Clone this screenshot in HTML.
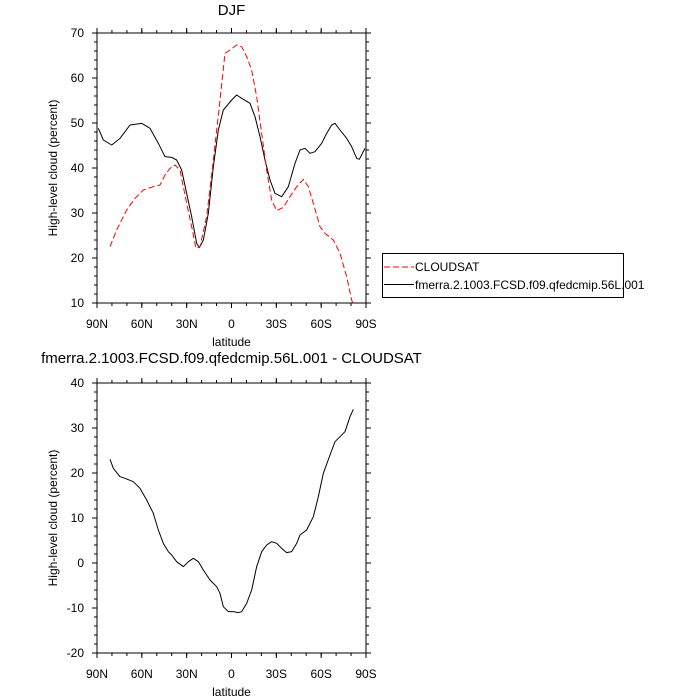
<!DOCTYPE html>
<html><head><style>html,body{margin:0;padding:0;background:#fff}svg{display:block}</style></head><body>
<svg width="700" height="700" viewBox="0 0 700 700" xmlns="http://www.w3.org/2000/svg" font-family="Liberation Sans, sans-serif">
<defs>
<g id="ax">
<rect x="97" y="0" width="269" height="270" fill="none" stroke="#000" stroke-width="1"/>
<g stroke="#000" fill="none">
<line x1="96.5" y1="271.5" x2="367" y2="271.5" stroke-width="3" stroke-dasharray="1 13.944"/>
<line x1="96.5" y1="272.5" x2="367" y2="272.5" stroke-width="5" stroke-dasharray="1 43.833"/>
<line x1="96.5" y1="-1.5" x2="367" y2="-1.5" stroke-width="3" stroke-dasharray="1 13.944"/>
<line x1="96.5" y1="-2.5" x2="367" y2="-2.5" stroke-width="5" stroke-dasharray="1 43.833"/>
<line x1="95.5" y1="-0.5" x2="95.5" y2="271" stroke-width="3" stroke-dasharray="1 8"/>
<line x1="94.5" y1="-0.5" x2="94.5" y2="271" stroke-width="5" stroke-dasharray="1 44"/>
<line x1="367.5" y1="-0.5" x2="367.5" y2="271" stroke-width="3" stroke-dasharray="1 8"/>
<line x1="368.5" y1="-0.5" x2="368.5" y2="271" stroke-width="5" stroke-dasharray="1 44"/>
</g>
<g font-size="12" text-anchor="middle">
<text x="97" y="295">90N</text><text x="141.8" y="295">60N</text><text x="186.7" y="295">30N</text><text x="231.5" y="295">0</text><text x="276.3" y="295">30S</text><text x="321.2" y="295">60S</text><text x="366" y="295">90S</text>
<text x="231.5" y="313">latitude</text>
</g>
<text transform="translate(57 135) rotate(-90)" font-size="12" text-anchor="middle">High-level cloud (percent)</text>
</g>
</defs>

<text x="231.5" y="15" font-size="15" text-anchor="middle">DJF</text>
<g transform="translate(0 33)"><use href="#ax"/>
<g font-size="12" text-anchor="end">
<text x="84" y="4">70</text><text x="84" y="49">60</text><text x="84" y="94">50</text><text x="84" y="139">40</text><text x="84" y="184">30</text><text x="84" y="229">20</text><text x="84" y="274">10</text>
</g></g>

<g transform="translate(40 20) scale(0.333333)" fill="none" stroke-linejoin="round">
<polyline stroke="#000" stroke-width="3" points="175,325 190,360 215,375 240,355 270,315 305,310 330,325 355,370 375,410 395,412 410,420 425,450 440,520 455,590 470,670 478,683 490,660 505,580 520,440 535,330 550,270 575,240 590,225 605,235 630,250 645,290 660,350 675,420 690,480 705,520 725,530 745,500 765,430 780,390 795,385 810,400 825,395 845,370 860,340 875,315 885,310 900,330 920,355 935,380 950,415 958,418 975,385"/>
<polyline stroke="#f00" stroke-width="3" stroke-dasharray="18 9" points="210,680 230,630 260,570 285,535 310,510 340,500 360,495 375,465 390,445 405,435 420,450 440,550 455,620 468,685 480,680 500,590 520,420 540,240 555,100 570,90 590,75 605,80 620,110 635,150 650,230 665,340 680,450 695,540 710,572 730,562 750,530 770,500 790,478 805,500 820,550 840,620 855,640 880,660 900,700 920,770 935,840 938,848"/>
</g>

<rect x="382.5" y="253.5" width="241" height="44" fill="#fff" stroke="#000" stroke-width="1"/>
<line x1="384" y1="267" x2="414" y2="267" stroke="#f00" stroke-dasharray="6 3"/>
<line x1="384" y1="284.5" x2="414" y2="284.5" stroke="#000"/>
<text x="415" y="271" font-size="12">CLOUDSAT</text>
<text x="415" y="289" font-size="12">fmerra.2.1003.FCSD.f09.qfedcmip.56L.001</text>

<text x="231.5" y="363" font-size="15" text-anchor="middle">fmerra.2.1003.FCSD.f09.qfedcmip.56L.001 - CLOUDSAT</text>
<g transform="translate(0 383)"><use href="#ax"/>
<g font-size="12" text-anchor="end">
<text x="84" y="4">40</text><text x="84" y="49">30</text><text x="84" y="94">20</text><text x="84" y="139">10</text><text x="84" y="184">0</text><text x="84" y="229">-10</text><text x="84" y="274">-20</text>
</g></g>
<g transform="translate(40 370) scale(0.333333)" fill="none" stroke-linejoin="round">
<polyline stroke="#000" stroke-width="3" points="210,268 220,295 240,320 255,325 280,335 300,355 320,390 340,430 355,480 370,520 385,545 395,555 410,575 430,590 445,575 460,565 475,575 490,600 510,630 530,650 540,670 550,710 565,725 580,725 595,728 605,725 620,700 635,660 650,590 665,545 680,525 695,515 710,520 725,535 740,548 755,545 770,520 780,495 800,480 820,440 835,380 850,310 870,255 885,215 900,200 915,185 930,140 940,118"/>
</g>
</svg>
</body></html>
